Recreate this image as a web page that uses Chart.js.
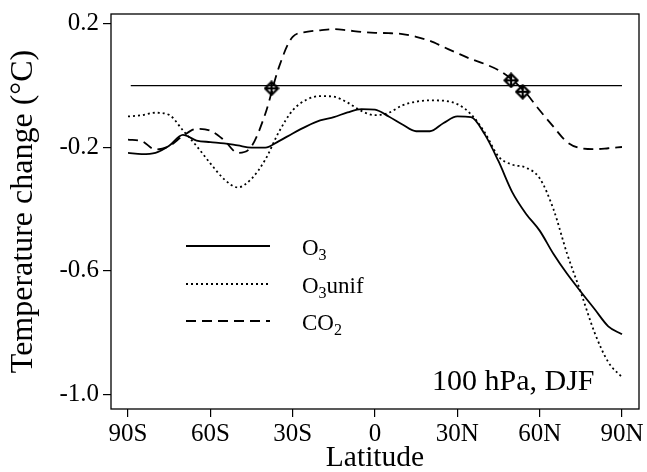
<!DOCTYPE html>
<html>
<head>
<meta charset="utf-8">
<script src="https://cdn.jsdelivr.net/npm/chart.js@4"></script>
<style>
  html, body { margin: 0; padding: 0; background: #fff; }
  #wrap { width: 647px; height: 472px; }
</style>
</head>
<body>
<div id="wrap"><canvas id="temp-chart"></canvas></div>
<script>
// latitude grid (deg, south negative)
const lat = [-90, -85, -80, -75, -70, -65, -60, -55, -50, -45, -40, -35, -30, -25, -20, -15, -10, -5,
  0, 5, 10, 15, 20, 25, 30, 35, 40, 45, 50, 55, 60, 65, 70, 75, 80, 85, 90];

const o3 = [-0.218, -0.222, -0.218, -0.195, -0.160, -0.178, -0.183, -0.187, -0.194, -0.201, -0.201,
  -0.180, -0.155, -0.132, -0.113, -0.102, -0.087, -0.076, -0.078, -0.100, -0.126, -0.148, -0.148,
  -0.121, -0.100, -0.102, -0.158, -0.245, -0.345, -0.415, -0.470, -0.545, -0.610, -0.668, -0.724,
  -0.780, -0.806];

const o3unif = [-0.100, -0.096, -0.088, -0.095, -0.145, -0.196, -0.252, -0.303, -0.330, -0.302, -0.240,
  -0.150, -0.080, -0.046, -0.034, -0.036, -0.055, -0.082, -0.096, -0.088, -0.064, -0.052, -0.048,
  -0.049, -0.060, -0.093, -0.152, -0.230, -0.256, -0.266, -0.300, -0.400, -0.545, -0.670, -0.800,
  -0.896, -0.945];

const co2 = [-0.175, -0.180, -0.207, -0.196, -0.163, -0.140, -0.146, -0.177, -0.218, -0.197, -0.092,
  0.060, 0.158, 0.174, 0.179, 0.183, 0.179, 0.174, 0.171, 0.170, 0.167, 0.158, 0.145, 0.125, 0.105,
  0.086, 0.070, 0.050, 0.019, -0.024, -0.080, -0.133, -0.183, -0.203, -0.206, -0.203, -0.199];

// zero reference line and the marked crossings
const zeroLat = [-89, 90];
const zeroVal = [0, 0];
const markLat = [-37.7, 49.6, 53.8];
const markVal = [-0.009, 0.017, -0.020];

const xTicks = [-90, -60, -30, 0, 30, 60, 90];
const xTickLabels = ["90S", "60S", "30S", "0", "30N", "60N", "90N"];
const yTicks = [0.2, -0.2, -0.6, -1.0];

const legendItems = [
  { base: "O", sub: "3", rest: "", dash: [] },
  { base: "O", sub: "3", rest: "unif", dash: [2, 3] },
  { base: "CO", sub: "2", rest: "", dash: [10, 6] },
];
const panelLabel = "100 hPa, DJF";

const SERIF = "'Liberation Serif', 'Times New Roman', serif";

function pts(xs, ys) {
  return xs.map((x, i) => ({ x: x, y: ys[i] }));
}

// diamond with a plus inside
function makeMarker() {
  const c = document.createElement("canvas");
  c.width = 16;
  c.height = 16;
  const g = c.getContext("2d");
  g.strokeStyle = "#000";
  g.lineWidth = 2.2;
  g.beginPath();
  g.moveTo(8, 1.5);
  g.lineTo(14.5, 8);
  g.lineTo(8, 14.5);
  g.lineTo(1.5, 8);
  g.closePath();
  g.stroke();
  g.beginPath();
  g.moveTo(8, 2);
  g.lineTo(8, 14);
  g.moveTo(2, 8);
  g.lineTo(14, 8);
  g.stroke();
  return c;
}

const framePlugin = {
  id: "frame",
  afterDraw(chart) {
    const { ctx, chartArea: a } = chart;
    ctx.save();
    ctx.strokeStyle = "#000";
    ctx.lineWidth = 1.3;
    ctx.strokeRect(a.left, a.top, a.right - a.left, a.bottom - a.top);

    // legend
    const lx0 = 186, lx1 = 270, tx = 302;
    const ly = [246, 284, 321];
    ctx.fillStyle = "#000";
    ctx.textBaseline = "alphabetic";
    legendItems.forEach((it, i) => {
      ctx.setLineDash(it.dash);
      ctx.lineWidth = 1.8;
      ctx.beginPath();
      ctx.moveTo(lx0, ly[i]);
      ctx.lineTo(lx1, ly[i]);
      ctx.stroke();
      ctx.setLineDash([]);
      const base = ly[i] + 9;
      ctx.font = "23px " + SERIF;
      ctx.fillText(it.base, tx, base);
      let x = tx + ctx.measureText(it.base).width;
      ctx.font = "16px " + SERIF;
      ctx.fillText(it.sub, x, base + 5);
      x += ctx.measureText(it.sub).width;
      ctx.font = "23px " + SERIF;
      ctx.fillText(it.rest, x, base);
    });

    ctx.font = "30px " + SERIF;
    ctx.fillText(panelLabel, 432, 390);
    ctx.restore();
  },
};

const canvas = document.querySelector("#temp-chart");

const chart = new Chart(canvas, {
  type: "line",
  data: {
    datasets: [
      {
        label: "zero",
        data: pts(zeroLat, zeroVal),
        borderColor: "#000",
        borderWidth: 1.2,
        pointRadius: 0,
      },
      {
        label: "O3",
        data: pts(lat, o3),
        borderColor: "#000",
        borderWidth: 1.8,
        pointRadius: 0,
        cubicInterpolationMode: "monotone",
      },
      {
        label: "O3unif",
        data: pts(lat, o3unif),
        borderColor: "#000",
        borderWidth: 1.8,
        borderDash: [2, 3],
        pointRadius: 0,
        cubicInterpolationMode: "monotone",
      },
      {
        label: "CO2",
        data: pts(lat, co2),
        borderColor: "#000",
        borderWidth: 1.8,
        borderDash: [10, 6],
        pointRadius: 0,
        cubicInterpolationMode: "monotone",
      },
      {
        label: "crossings",
        data: pts(markLat, markVal),
        showLine: false,
        pointStyle: makeMarker(),
        pointRadius: 7,
      },
    ],
  },
  options: {
    responsive: true,
    maintainAspectRatio: false,
    animation: false,
    layout: { padding: { top: 12, right: 7, left: 0, bottom: 0 } },
    plugins: {
      legend: { display: false },
      tooltip: { enabled: false },
    },
    scales: {
      x: {
        type: "linear",
        min: -96.2,
        max: 96.2,
        afterFit: (s) => { s.height = 63; },
        afterBuildTicks: (s) => { s.ticks = xTicks.map((v) => ({ value: v })); },
        grid: { drawOnChartArea: false, tickLength: 8, color: "#000", lineWidth: 1.2 },
        border: { display: false },
        ticks: {
          color: "#000",
          padding: 2,
          maxRotation: 0,
          font: { family: SERIF, size: 25 },
          callback: (v) => xTickLabels[xTicks.indexOf(v)],
        },
        title: {
          display: true,
          text: "Latitude",
          color: "#000",
          font: { family: SERIF, size: 29.5, lineHeight: 1 },
          padding: { top: 0, bottom: -1 },
        },
      },
      y: {
        min: -1.048,
        max: 0.232,
        afterFit: (s) => { s.width = 111; },
        afterBuildTicks: (s) => { s.ticks = yTicks.map((v) => ({ value: v })); },
        grid: { drawOnChartArea: false, tickLength: 8, color: "#000", lineWidth: 1.2 },
        border: { display: false },
        ticks: {
          color: "#000",
          padding: 4,
          font: { family: SERIF, size: 25, lineHeight: 0.8 },
          callback: (v) => v.toFixed(1),
        },
        title: {
          display: true,
          text: "Temperature change (°C)",
          color: "#000",
          font: { family: SERIF, size: 32, lineHeight: 1 },
          padding: { top: 8, bottom: 0 },
        },
      },
    },
  },
  plugins: [framePlugin],
});
</script>
</body>
</html>
